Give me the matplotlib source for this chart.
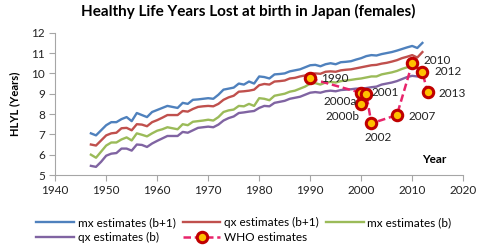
import numpy as np
import matplotlib
matplotlib.use("Agg")
import matplotlib.pyplot as plt

plt.rcParams['font.family'] = ['Lato', 'DejaVu Sans']

# data
years_b1 = list(range(1947, 2013))
years_b = list(range(1947, 2012))

mx_b1 = [7.05, 6.95, 7.2, 7.45, 7.6, 7.6, 7.75, 7.85, 7.65, 8.05,
         7.95, 7.85, 8.1, 8.2, 8.3, 8.4, 8.35, 8.3, 8.55, 8.5,
         8.7, 8.72, 8.75, 8.78, 8.75, 8.95, 9.2, 9.25, 9.3, 9.5,
         9.45, 9.6, 9.5, 9.85, 9.82, 9.75, 9.95, 9.97, 10.0, 10.1,
         10.15, 10.2, 10.3, 10.4, 10.42, 10.35, 10.45, 10.5, 10.45, 10.55,
         10.57, 10.6, 10.68, 10.75, 10.85, 10.9, 10.88, 10.95, 11.0, 11.05,
         11.12, 11.2, 11.28, 11.35, 11.25, 11.5]
qx_b1 = [6.5, 6.45, 6.7, 6.95, 7.05, 7.08, 7.3, 7.32, 7.2, 7.5,
         7.48, 7.4, 7.6, 7.7, 7.82, 7.95, 7.95, 7.95, 8.15, 8.12,
         8.25, 8.35, 8.38, 8.4, 8.38, 8.5, 8.7, 8.82, 8.9, 9.1,
         9.12, 9.15, 9.2, 9.42, 9.48, 9.45, 9.6, 9.62, 9.65, 9.75,
         9.78, 9.85, 9.9, 9.98, 10.0, 9.98, 10.08, 10.1, 10.08, 10.15,
         10.18, 10.2, 10.25, 10.3, 10.35, 10.4, 10.42, 10.48, 10.52, 10.58,
         10.65, 10.75, 10.82, 10.9, 10.78, 11.05]
mx_b = [6.0, 5.85, 6.15, 6.45, 6.6, 6.6, 6.75, 6.85, 6.7, 7.05,
        6.98, 6.9, 7.05, 7.18, 7.25, 7.35, 7.3, 7.25, 7.5, 7.45,
        7.62, 7.65, 7.68, 7.72, 7.68, 7.85, 8.1, 8.18, 8.22, 8.4,
        8.38, 8.5, 8.4, 8.78, 8.75, 8.68, 8.9, 8.95, 9.0, 9.1,
        9.15, 9.25, 9.35, 9.5, 9.52, 9.45, 9.55, 9.58, 9.55, 9.62,
        9.65, 9.68, 9.72, 9.75, 9.8, 9.85, 9.85, 9.95, 10.0, 10.05,
        10.12, 10.22, 10.3, 10.4, 10.55]
qx_b = [5.45, 5.4, 5.65, 5.95, 6.05, 6.08, 6.3, 6.3, 6.2, 6.5,
        6.48, 6.38, 6.55, 6.68, 6.8, 6.92, 6.92, 6.92, 7.12, 7.08,
        7.2, 7.32, 7.35, 7.38, 7.35, 7.48, 7.68, 7.8, 7.88, 8.05,
        8.08, 8.12, 8.15, 8.3, 8.4, 8.38, 8.55, 8.6, 8.65, 8.75,
        8.8, 8.85, 8.95, 9.05, 9.08, 9.05, 9.12, 9.15, 9.12, 9.18,
        9.2, 9.22, 9.25, 9.25, 9.28, 9.32, 9.35, 9.45, 9.5, 9.55,
        9.62, 9.72, 9.82, 9.88, 9.85]

who_years = [1990, 2000, 2000, 2001, 2002, 2007, 2010, 2012, 2013]
who_vals = [9.75, 9.04, 8.47, 8.97, 7.54, 7.95, 10.49, 10.08, 9.06]
who_labels = ['1990', '2000a', '2000b', '2001', '2002', '2007', '2010', '2012', '2013']
# label offsets in points and alignment
who_offsets = [(8, 0, 'left'), (-3, -6, 'right'), (-1, -9, 'right'), (4, 1, 'left'),
               (5, -10, 'center'), (8, -1, 'left'), (8, 2, 'left'), (9, 0, 'left'), (8, -1, 'left')]

fig = plt.figure(figsize=(4.8, 2.5), dpi=100)
ax = fig.add_axes([0.115, 0.30, 0.85, 0.569])

ax.plot(years_b1, mx_b1, color='#4F81BD', lw=1.7, label='mx estimates (b+1)')
ax.plot(years_b1, qx_b1, color='#C0504D', lw=1.7, label='qx estimates (b+1)')
ax.plot(years_b, mx_b, color='#9BBB59', lw=1.7, label='mx estimates (b)')
ax.plot(years_b, qx_b, color='#8064A2', lw=1.7, label='qx estimates (b)')
ax.plot(who_years, who_vals, color='#E8246B', lw=1.8, ls=(0, (3, 1.5)),
        marker='o', ms=7.5, mfc='#FFC000', mec='#C00000', mew=2.2, label='WHO estimates')

for x, y, lab, (dx, dy, ha) in zip(who_years, who_vals, who_labels, who_offsets):
    ax.annotate(lab, (x, y), xytext=(dx, dy), textcoords='offset points',
                ha=ha, va='center', fontsize=8.5, color='#222222')

ax.set_xlim(1940, 2020)
ax.set_ylim(5, 12)
ax.set_xticks(np.arange(1940, 2021, 10))
ax.set_yticks(np.arange(5, 13, 1))
for s in ['top', 'right']:
    ax.spines[s].set_visible(False)
for s in ['left', 'bottom']:
    ax.spines[s].set_color('#A6A6A6')
ax.tick_params(colors='#A6A6A6', labelcolor='#222222', labelsize=8.5, length=4, direction='out')

ax.set_ylabel('HLYL (Years)', fontsize=8, fontweight='bold', labelpad=8)
ax.text(0.928, 0.11, 'Year', transform=ax.transAxes, ha='center', va='center',
        fontsize=8.5, fontweight='bold')
fig.suptitle('Healthy Life Years Lost at birth in Japan (females)', x=0.517, y=0.985,
             fontsize=11, fontweight='bold')

h, l = ax.get_legend_handles_labels()
order = [0, 3, 1, 4, 2]
fig.legend([h[i] for i in order], [l[i] for i in order], ncol=3, loc='center',
           bbox_to_anchor=(0.508, 0.08), frameon=False, fontsize=8.5,
           handlelength=3.2, handletextpad=0.3, columnspacing=0.6, labelspacing=0.35,
           borderpad=0)

fig.savefig('out.png', dpi=100)
